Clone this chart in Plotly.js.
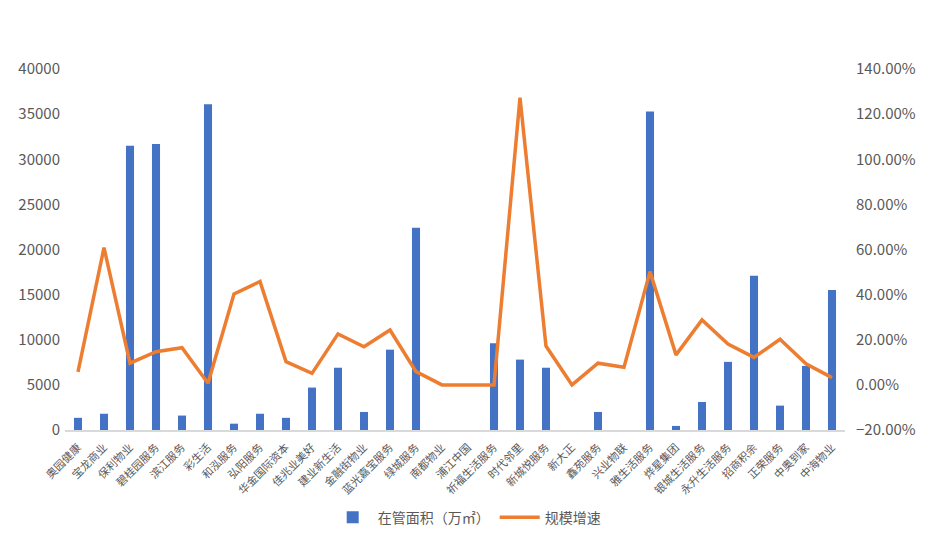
<!DOCTYPE html>
<html>
<head>
<meta charset="utf-8">
<script src="https://cdn.plot.ly/plotly-3.0.1.min.js"></script>
<style>
  html, body { margin: 0; padding: 0; background: #fff; }
  #chart { width: 930px; height: 542px; }
</style>
</head>
<body>
<div id="chart"></div>
<script>
const companies = ['奥园健康', '宝龙商业', '保利物业', '碧桂园服务', '滨江服务', '彩生活', '和泓服务', '弘阳服务',
  '华金国际资本', '佳兆业美好', '建业新生活', '金融街物业', '蓝光嘉宝服务', '绿城服务', '南都物业', '浦江中国',
  '祈福生活服务', '时代邻里', '新城悦服务', '新大正', '鑫苑服务', '兴业物联', '雅生活服务', '烨星集团',
  '银城生活服务', '永升生活服务', '招商积余', '正荣服务', '中奥到家', '中海物业'];

// 在管面积（万㎡）
const managedArea = [1350, 1800, 31500, 31700, 1600, 36100, 700, 1800,
  1350, 4700, 6900, 2000, 8900, 22400, null, null,
  9600, 7800, 6900, null, 2000, null, 35300, 450,
  3100, 7550, 17100, 2700, 7100, 15500];

// 规模增速
const growthRate = [0.058, 0.608, 0.096, 0.147, 0.165, 0.007, 0.403, 0.458,
  0.103, 0.051, 0.226, 0.169, 0.243, 0.059, 0.0, 0.0,
  0.0, 1.273, 0.172, 0.0, 0.096, 0.078, 0.502, 0.133,
  0.288, 0.181, 0.122, 0.202, 0.093, 0.032];

const font = 'DengXian, "Noto Sans CJK SC", "Noto Sans", sans-serif';
const grey = '#595959';

const bars = {
  type: 'bar',
  name: '在管面积（万㎡）',
  x: companies,
  y: managedArea,
  width: 0.31,
  marker: {color: '#4472C4'},
  hoverinfo: 'x+y'
};

const line = {
  type: 'scatter',
  mode: 'lines',
  name: '规模增速',
  x: companies,
  y: growthRate,
  yaxis: 'y2',
  line: {color: '#ED7D31', width: 3.5},
  hoverinfo: 'x+y'
};

const layout = {
  width: 930,
  height: 542,
  margin: {l: 65, r: 85, t: 69, b: 112},
  paper_bgcolor: '#fff',
  plot_bgcolor: '#fff',
  font: {family: font, color: grey},
  showlegend: true,
  legend: {
    orientation: 'h',
    xref: 'paper', yref: 'container',
    x: 0.515, xanchor: 'center',
    y: 0.045, yanchor: 'middle',
    font: {size: 14, color: grey},
    itemwidth: 40,
    traceorder: 'normal'
  },
  xaxis: {
    type: 'category',
    tickangle: -45,
    tickfont: {size: 11, color: grey},
    showgrid: false,
    showline: true,
    linecolor: '#d9d9d9',
    linewidth: 1.5,
    ticks: '',
    ticklabelstandoff: 5,
    zeroline: false
  },
  yaxis: {
    range: [0, 40000],
    dtick: 5000,
    tickformat: 'd',
    showgrid: false,
    zeroline: false,
    showline: false,
    ticks: '',
    tickfont: {size: 15, color: grey},
    ticklabelstandoff: 4
  },
  yaxis2: {
    overlaying: 'y',
    side: 'right',
    range: [-0.2, 1.4],
    dtick: 0.2,
    tickformat: '.2%',
    showgrid: false,
    zeroline: false,
    showline: false,
    ticks: '',
    tickfont: {size: 15, color: grey},
    ticklabelstandoff: 10
  }
};

Plotly.newPlot('chart', [bars, line], layout, {displayModeBar: false});
</script>
</body>
</html>
